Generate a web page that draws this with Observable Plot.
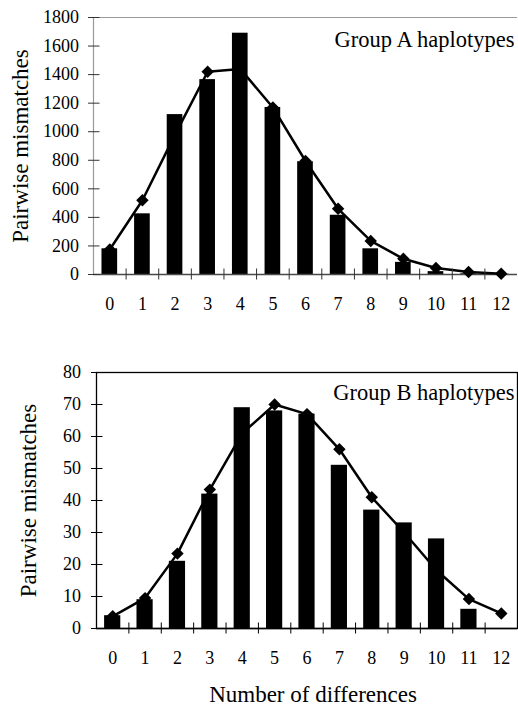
<!DOCTYPE html>
<html>
<head>
<meta charset="utf-8">
<script src="https://cdn.jsdelivr.net/npm/d3@7"></script>
<script src="https://cdn.jsdelivr.net/npm/@observablehq/plot@0.6"></script>
<style>
  html, body { margin: 0; padding: 0; background: #fff; }
  #chart { width: 518px; }
  #chart svg { display: block; }
</style>
</head>
<body>
<div id="chart"></div>
<script>
// ---- data ----
const differences = [0, 1, 2, 3, 4, 5, 6, 7, 8, 9, 10, 11, 12];
const xTickLabels = ["0", "1", "2", "3", "4", "5", "6", "7", "8", "9", "10", "11", "12"];
const groupAObserved = [180, 425, 1120, 1365, 1690, 1170, 790, 415, 180, 85, 20, 5, 2];
const groupAExpected = [175, 520, 980, 1420, 1440, 1170, 795, 460, 235, 110, 45, 18, 5];
const groupBObserved = [4, 9, 21, 42, 69, 68, 67, 51, 37, 33, 28, 6, 0];
const groupBExpected = [3.8, 9.5, 23.4, 43.4, 61, 70, 67, 56, 41, 30, 18.2, 9.2, 4.7];
const yTicksA = [0, 200, 400, 600, 800, 1000, 1200, 1400, 1600, 1800];
const yTicksB = [0, 10, 20, 30, 40, 50, 60, 70, 80];
const xDomain = [-0.5, 12.5];
const boundaries = differences.slice(0, -1).map(d => d + 0.5);
const titleA = "Group A haplotypes";
const titleB = "Group B haplotypes";
const yLabel = "Pairwise mismatches";
const xLabel = "Number of differences";

const FONT = "'Liberation Serif', 'Times New Roman', Times, serif";

function panel(o) {
  const rows = differences.map((d, i) => ({d, obs: o.obs[i], exp: o.exp[i]}));
  const yMax = o.yTicks[o.yTicks.length - 1];
  const marks = [
    Plot.rect(rows, {x1: r => r.d - o.half, x2: r => r.d + o.half, y1: () => 0, y2: "obs", fill: "black"})
  ];
  if (o.boxed) {
    marks.push(Plot.frame({stroke: "black", strokeWidth: 1.3}));
  } else {
    marks.push(Plot.ruleY([yMax], {stroke: "#9a9a9a", strokeWidth: 1.2}));
    marks.push(Plot.ruleX([xDomain[0]], {stroke: "#9a9a9a", strokeWidth: 1.2}));
  }
  marks.push(
    Plot.ruleY([0], {stroke: o.zeroColor, strokeWidth: 1.3}),
    Plot.line(rows, {x: "d", y: "exp", stroke: "black", strokeWidth: 2.5}),
    Plot.dot(rows, {x: "d", y: "exp", symbol: "diamond2", r: 5.6, fill: "black", stroke: "none"}),
    Plot.axisX({ticks: differences, tickSize: 0, tickPadding: 23, tickFormat: (d, i) => xTickLabels[i], fontSize: 18, fontFamily: FONT, label: null}),
    Plot.axisX({ticks: boundaries, tickSize: 11, dy: -5.5, tickFormat: () => "", stroke: o.tickColor, label: null}),
    Plot.axisY({ticks: o.yTicks, tickSize: 0, tickPadding: o.yPad, tickFormat: d => String(d), fontSize: 18, fontFamily: FONT, label: null}),
    Plot.axisY({ticks: o.yTicks, tickSize: 11.5, dx: 6.5, tickFormat: () => "", stroke: o.tickColor, label: null}),
    Plot.text([yLabel], {frameAnchor: "left", textAnchor: "middle", lineAnchor: "middle", rotate: -90, dx: o.yLabelDx, fontSize: 23, fontFamily: FONT}),
    Plot.text([o.title], {frameAnchor: "top-right", textAnchor: "end", lineAnchor: "top", dx: -3, dy: o.titleDy, fontSize: 22.5, fontFamily: FONT})
  );
  if (o.xLabel) {
    marks.push(Plot.text([o.xLabel], {frameAnchor: "bottom", lineAnchor: "bottom", dx: 6, dy: o.xLabelDy, fontSize: 23, fontFamily: FONT}));
  }
  return Plot.plot({
    width: 518,
    height: o.height,
    marginTop: o.marginTop,
    marginBottom: o.marginBottom,
    marginLeft: o.marginLeft,
    marginRight: 1,
    style: {fontFamily: FONT, fontSize: "18px", color: "black", background: "white", overflow: "visible"},
    x: {type: "linear", domain: xDomain},
    y: {type: "linear", domain: [0, yMax]},
    marks
  });
}

const chart = document.getElementById("chart");
chart.append(panel({
  obs: groupAObserved, exp: groupAExpected, yTicks: yTicksA, title: titleA,
  height: 320, marginTop: 17, marginBottom: 46, marginLeft: 93,
  half: 0.24, boxed: false, zeroColor: "#4a4a4a", tickColor: "#333",
  yPad: 14.5, yLabelDx: -73, titleDy: 13.8
}));
chart.append(panel({
  obs: groupBObserved, exp: groupBExpected, yTicks: yTicksB, title: titleB,
  height: 386, marginTop: 52, marginBottom: 78, marginLeft: 96,
  half: 0.25, boxed: true, zeroColor: "black", tickColor: "black",
  yPad: 15.5, yLabelDx: -68, titleDy: 11.8, xLabel: xLabel, xLabelDy: 73
}));
</script>
</body>
</html>
